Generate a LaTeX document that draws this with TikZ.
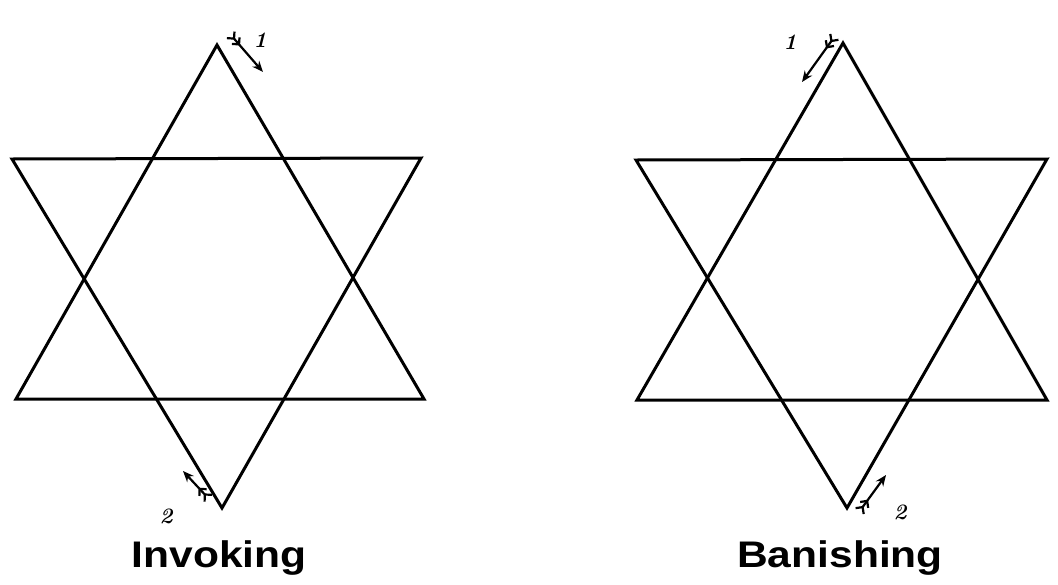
\documentclass[tikz,border=0pt]{standalone}
\usepackage{fontspec}
\setsansfont{Liberation Sans}
\usetikzlibrary{arrows.meta}
\tikzset{
  star/.style={line width=3pt, line join=miter, black},
  arr/.style={line width=2.2pt, {Straight Barb[reversed,length=5pt,width=10pt] Straight Barb[reversed,length=5pt,width=10pt]}-{Stealth[length=11pt,width=9pt]}},
  num/.style={font=\fontsize{22}{22}\selectfont\itshape\bfseries},
  title/.style={font=\sffamily\bfseries\fontsize{37}{37}\selectfont, xscale=1.15, anchor=base}
}
\begin{document}
\begin{tikzpicture}[x=1pt,y=-1pt]
\useasboundingbox (0,0) rectangle (1058,584);
% left hexagram
\coordinate (LT) at (217,45);
\coordinate (LLL) at (16,399);
\coordinate (LLR) at (424,399);
\coordinate (LUL) at (12,159);
\coordinate (LUR) at (421,158);
\coordinate (LB) at (222,508);
\draw[star] (LT) -- (LLR) -- (LLL) -- cycle;
\draw[star] (LUL) -- (LUR) -- (LB) -- cycle;
% right hexagram
\coordinate (RT) at (843,43);
\coordinate (RLL) at (637,400);
\coordinate (RLR) at (1047,400);
\coordinate (RUL) at (636,160);
\coordinate (RUR) at (1047,159);
\coordinate (RB) at (847,508);
\draw[star] (RT) -- (RLR) -- (RLL) -- cycle;
\draw[star] (RUL) -- (RUR) -- (RB) -- cycle;
% arrows
\coordinate (a1s) at (230,34);
\coordinate (a1e) at (263,72);
\draw[arr] (a1s) -- (a1e);
\node[num] (n1) at (260,40) {1};
\coordinate (a2s) at (209,499);
\coordinate (a2e) at (183,471);
\draw[arr] (a2s) -- (a2e);
\node[num] (n2) at (166,516) {2};
\coordinate (b1s) at (835,36);
\coordinate (b1e) at (802,82);
\draw[arr] (b1s) -- (b1e);
\node[num] (m1) at (790,42) {1};
\coordinate (b2s) at (859,512);
\coordinate (b2e) at (886,475);
\draw[arr] (b2s) -- (b2e);
\node[num] (m2) at (900,512) {2};
% titles
\node[title] (inv) at (219,567) {Invoking};
\node[title] (ban) at (840,567) {Banishing};
\end{tikzpicture}
\end{document}
